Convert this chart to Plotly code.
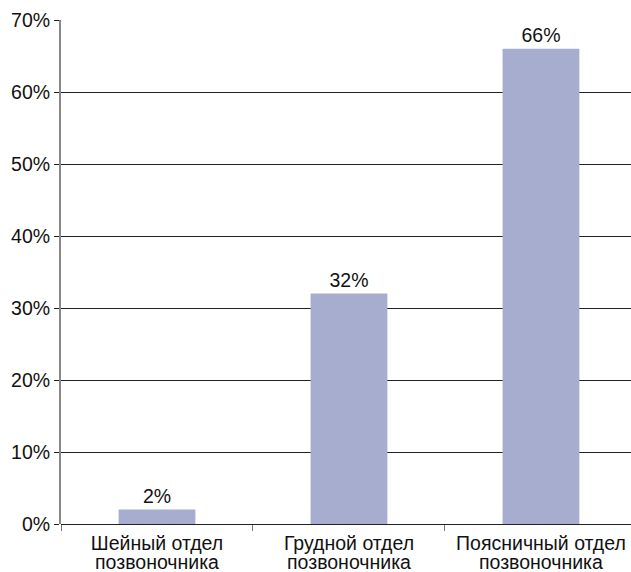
import plotly.graph_objects as go

cat_line1 = ["Шейный отдел", "Грудной отдел", "Поясничный отдел"]
cat_line2 = ["позвоночника", "позвоночника", "позвоночника"]
values = [2, 32, 66]
labels = ["2%", "32%", "66%"]
y_ticks = [0, 10, 20, 30, 40, 50, 60, 70]
y_tick_text = ["0%", "10%", "20%", "30%", "40%", "50%", "60%", "70%"]

font_family = "Liberation Sans, Arial, sans-serif"
FS = 19.5
x_range = [-0.5, 2.469]

fig = go.Figure()
fig.add_trace(go.Bar(
    x=cat_line1,
    y=values,
    text=labels,
    textposition="outside",
    textfont=dict(size=FS, color="#111111", family=font_family),
    marker=dict(color="#A7ADCF", line=dict(width=0)),
    width=0.4,
    cliponaxis=False,
))

fig.update_layout(
    width=631,
    height=572,
    margin=dict(l=61, r=0, t=20, b=48, autoexpand=False),
    paper_bgcolor="white",
    plot_bgcolor="white",
    showlegend=False,
    hovermode=False,
    uniformtext=dict(minsize=FS, mode="show"),
    font=dict(family=font_family, size=FS, color="#111111"),
    xaxis=dict(
        type="category",
        range=x_range,
        automargin=False,
        showgrid=False,
        showline=False,
        ticks="outside",
        tickson="boundaries",
        ticklen=6,
        tickcolor="#777777",
        ticklabelstandoff=5,
        tickfont=dict(size=FS, color="#111111", family=font_family),
        zeroline=False,
    ),
    xaxis2=dict(
        overlaying="x",
        anchor="y",
        side="bottom",
        type="linear",
        range=x_range,
        automargin=False,
        tickmode="array",
        tickvals=list(range(len(cat_line2))),
        ticktext=cat_line2,
        ticks="",
        showgrid=False,
        showline=False,
        zeroline=False,
        ticklabelstandoff=24,
        tickfont=dict(size=FS, color="#111111", family=font_family),
    ),
    yaxis=dict(
        range=[0, 70],
        automargin=False,
        tickvals=y_ticks,
        ticktext=y_tick_text,
        showgrid=True,
        gridcolor="#222222",
        gridwidth=1,
        showline=True,
        linecolor="#888888",
        linewidth=2,
        ticks="outside",
        ticklen=5,
        tickcolor="#222222",
        tickfont=dict(size=FS, color="#111111", family=font_family),
        zeroline=True,
        zerolinecolor="#222222",
        zerolinewidth=1,
    ),
)
# invisible helper trace so the second x-axis is drawn
fig.add_trace(go.Scatter(x=[], y=[], xaxis="x2", yaxis="y", showlegend=False))

fig.write_html("out.html")
